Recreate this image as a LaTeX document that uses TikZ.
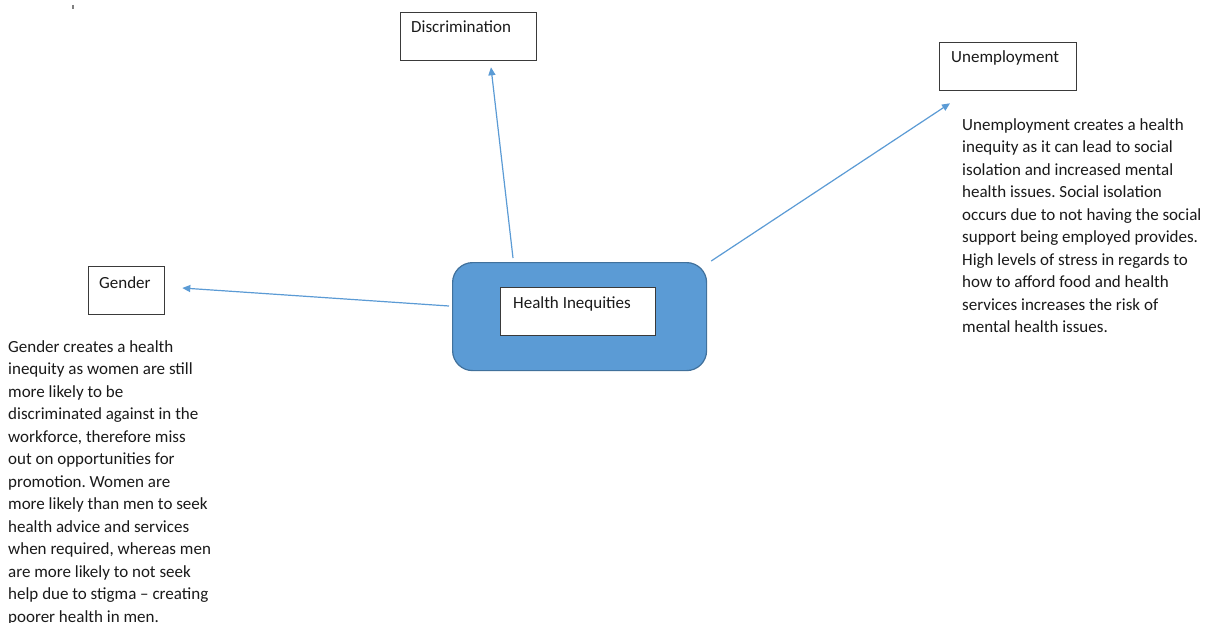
\documentclass[tikz,border=0pt]{standalone}
\usepackage{fontspec}
\setmainfont{Carlito}
\usetikzlibrary{arrows.meta,calc}
\definecolor{accent}{HTML}{5B9BD5}
\definecolor{accentdark}{HTML}{41719C}
\definecolor{boxline}{HTML}{3A3A3A}
\definecolor{txt}{HTML}{1A1A1A}
\tikzset{
  lbox/.style={draw=boxline, line width=1.3pt, fill=white, inner sep=0pt, anchor=north west},
  lbl/.style={anchor=base west, inner sep=0pt, text=txt, font=\fontsize{17}{20}\selectfont},
  para/.style={anchor=north west, inner sep=0pt, align=left, text=txt, font=\fontsize{17}{22.5}\selectfont\frenchspacing},
  arr/.style={draw=accent, line width=1.2pt, -{Triangle[length=8pt,width=7pt]}},
  hub/.style={draw=accentdark, line width=1.2pt, fill=accent, rounded corners=20pt, inner sep=0pt, anchor=north west}
}
\begin{document}
\begin{tikzpicture}[x=1pt,y=-1pt]
\useasboundingbox (0,0) rectangle (1209,623);
\fill[white] (0,0) rectangle (1209,623);
% small mark
\draw[gray, line width=1.6pt] (73,5) -- (73,9.5);
% hub
\node[hub, minimum width=254pt, minimum height=108pt] (main) at (452,262) {};
\node[lbox, minimum width=155pt, minimum height=48pt] (inner) at (500,287) {};
\node[lbl] (innert) at (513,308) {Health Inequities};
% boxes
\node[lbox, minimum width=136pt, minimum height=48pt] (disc) at (400,12) {};
\node[lbl] (disct) at (411,33) {Discrimination};
\node[lbox, minimum width=137pt, minimum height=48pt] (unemp) at (939,42) {};
\node[lbl] (unempt) at (951,63) {Unemployment};
\node[lbox, minimum width=76pt, minimum height=48pt] (gender) at (88,266) {};
\node[lbl] (gendert) at (99,288) {Gender};
% connector endpoints
\coordinate (s1) at ($(main.north west)+(61,-4)$);
\coordinate (e1) at ($(disc.south west)+(91,6)$);
\coordinate (s2) at ($(main.north east)+(4,-1)$);
\coordinate (e2) at ($(unemp.south west)+(11,12)$);
\coordinate (s3) at ($(main.north west)+(-3,44)$);
\coordinate (e3) at ($(gender.north east)+(17,22)$);
\draw[arr] (s1) -- (e1);
\draw[arr] (s2) -- (e2);
\draw[arr] (s3) -- (e3);
% paragraphs
\node[para] (gpara) at (8,340) {Gender creates a health\\inequity as women are still\\more likely to be\\discriminated against in the\\workforce, therefore miss\\out on opportunities for\\promotion. Women are\\more likely than men to seek\\health advice and services\\when required, whereas men\\are more likely to not seek\\help due to stigma -- creating\\poorer health in men.};
\node[para] (upara) at (962,118) {Unemployment creates a health\\inequity as it can lead to social\\isolation and increased mental\\health issues. Social isolation\\occurs due to not having the social\\support being employed provides.\\High levels of stress in regards to\\how to afford food and health\\services increases the risk of\\mental health issues.};
\end{tikzpicture}
\end{document}
